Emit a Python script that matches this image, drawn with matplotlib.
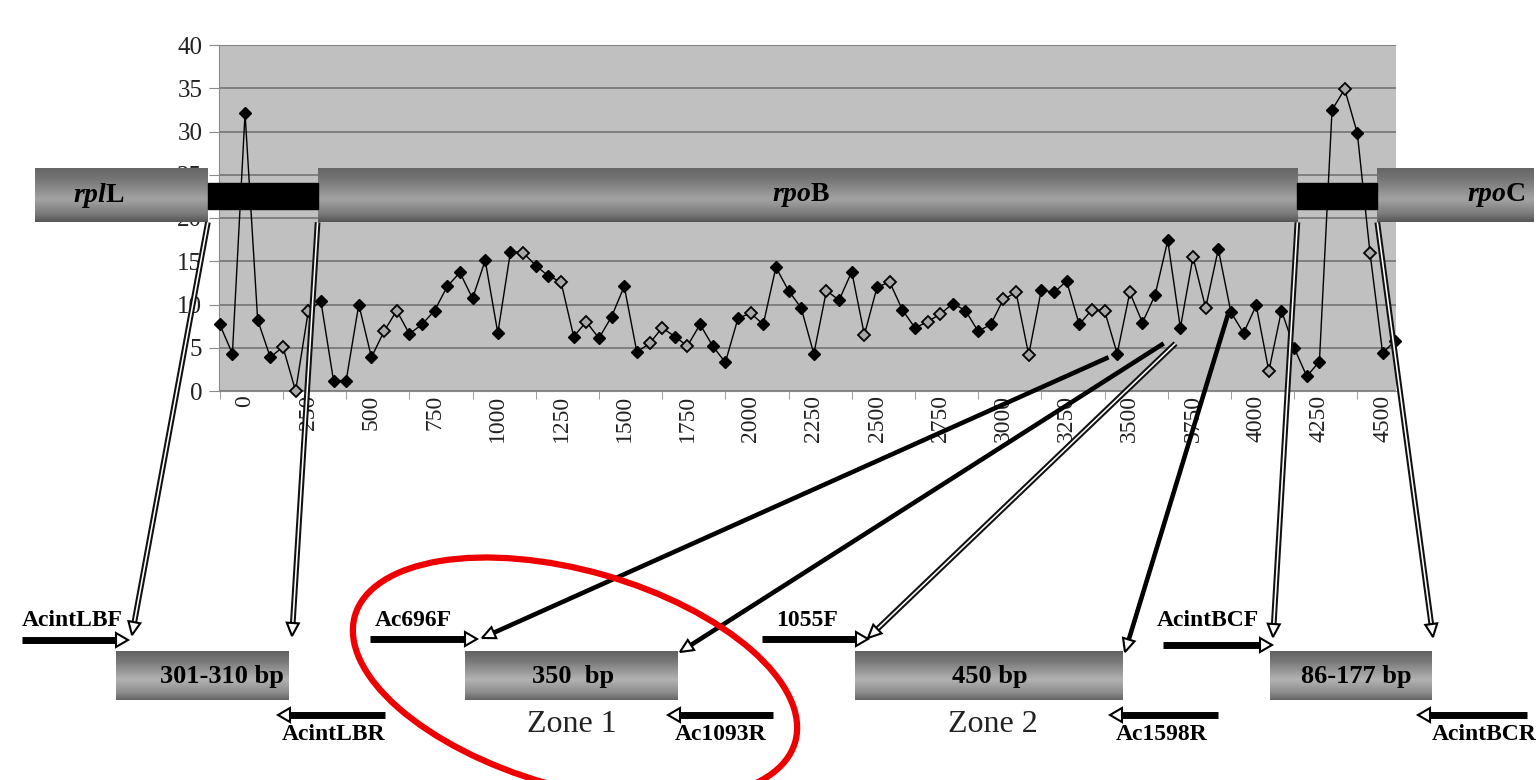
import numpy as np
import matplotlib.pyplot as plt
from matplotlib.patches import Rectangle, Polygon, Ellipse

plt.rcParams['font.family'] = ['Liberation Serif', 'DejaVu Serif']
plt.rcParams['mathtext.fontset'] = 'custom'
plt.rcParams['mathtext.it'] = 'Liberation Serif:italic:bold'
plt.rcParams['mathtext.rm'] = 'Liberation Serif:bold'

# position along the rplL-rpoB-rpoC region (bp), one point every 50 bp
positions = list(range(-100, 4551, 50))
values = [7.7, 4.3, 32.1, 8.2, 3.9, 5.1, 0.0, 9.2, 10.4, 1.2,
          1.2, 10.0, 3.9, 6.9, 9.3, 6.6, 7.7, 9.3, 12.1, 13.7,
          10.7, 15.1, 6.7, 16.1, 16.0, 14.5, 13.3, 12.6, 6.3, 8.0,
          6.1, 8.6, 12.1, 4.5, 5.5, 7.3, 6.3, 5.2, 7.7, 5.2,
          3.3, 8.4, 9.0, 7.7, 14.3, 11.6, 9.6, 4.3, 11.6, 10.5,
          13.8, 6.5, 12.0, 12.6, 9.4, 7.3, 8.0, 8.9, 10.1, 9.3,
          6.9, 7.7, 10.6, 11.4, 4.2, 11.7, 11.4, 12.7, 7.7, 9.4,
          9.3, 4.3, 11.4, 7.9, 11.1, 17.4, 7.3, 15.5, 9.6, 16.4,
          9.1, 6.7, 9.9, 2.3, 9.3, 5.0, 1.7, 3.4, 32.5, 34.9,
          29.8, 16.0, 4.4, 5.8]
open_idx = [5, 6, 7, 13, 14, 24, 27, 29, 34, 35, 37, 42, 48, 51, 53, 56, 57,
            62, 63, 64, 69, 70, 72, 77, 78, 83, 89, 91]
xtick_vals = list(range(0, 4501, 250))

# genes (bp) and the intergenic spacers between them
gene_labels = ['$rpl$L', '$rpo$B', '$rpo$C']
gene_start = [-830, 287, 4479]
gene_end = [-147, 4163, 5100]
gene_label_x = [-580, 2200, 4950]
spacers = [(-147, 287), (4163, 4479)]

# amplicons (figure pixels) and primers
amp_labels = ['301-310 bp', '350  bp', '450 bp', '86-177 bp']
amp_left = [116, 465, 855, 1270]
amp_right = [289, 678, 1123, 1432]
amp_text_x = [222, 573, 990, 1356]
fwd_primers = ['AcintLBF', 'Ac696F', '1055F', 'AcintBCF']
fwd_x = [(22, 128), (370, 477), (762, 868), (1163, 1272)]
fwd_y = [640, 639, 639, 645]
fwd_label_x = [72, 413, 807, 1208]
rev_primers = ['AcintLBR', 'Ac1093R', 'Ac1598R', 'AcintBCR']
rev_x = [(385, 278), (773, 668), (1218, 1110), (1527, 1418)]
rev_label_x = [334, 721, 1162, 1484]
zones = ['Zone 1', 'Zone 2']
zone_x = [572, 993]

# links from the chart to the amplicons: start (bp, value) -> end (pixels)
link_start = [(-147, 19.5), (287, 19.5), (3416, 3.9), (3634, 5.5),
              (3681, 5.5), (3890, 9.0), (4163, 19.5), (4479, 19.5)]
link_end = [(132, 635), (292, 636), (482, 638), (680, 652),
            (868, 638), (1125, 652), (1273, 637), (1433, 637)]
link_hollow = [True, True, False, False, True, False, True, True]

fig = plt.figure(figsize=(15.36, 7.8), dpi=100)
ax = fig.add_axes([219 / 1536, 1 - 391 / 780, 1177 / 1536, 346 / 780])
ax.set_facecolor('#c0c0c0')
ax.set_xlim(-103, 4553)
ax.set_ylim(0, 40)
ax.set_yticks(range(0, 41, 5))
ax.grid(axis='y', color='#7a7a7a', lw=1.3)
ax.set_axisbelow(True)
for s in ['top', 'right']:
    ax.spines[s].set_visible(False)
for s in ['left', 'bottom']:
    ax.spines[s].set_color('#8a8a8a')
ax.tick_params(axis='y', direction='out', length=7, color='#8a8a8a',
               labelsize=18, labelcolor='#222222', pad=5)
ax.set_xticks(xtick_vals)
ax.set_xticklabels([str(v) for v in xtick_vals], rotation=90)
ax.tick_params(axis='x', which='major', length=0, pad=3, labelsize=17,
               labelcolor='#222222')
ax.set_xticks(range(-100, 4500, 250), minor=True)
ax.tick_params(axis='x', which='minor', length=6, direction='out', color='#8a8a8a')

ax.plot(positions, values, color='black', lw=1.0, zorder=3)
closed = [i for i in range(len(values)) if i not in open_idx]
ax.plot([positions[i] for i in closed], [values[i] for i in closed], 'D',
        ms=6.5, color='black', zorder=4, clip_on=False)
ax.plot([positions[i] for i in open_idx], [values[i] for i in open_idx], 'D',
        ms=6.5, mfc='#a8a8a8', mec='black', mew=1.3, zorder=4, clip_on=False)

# overlay in figure pixels for the gene map and the amplicon diagram
ov = fig.add_axes([0, 0, 1, 1])
ov.set_xlim(0, 1536)
ov.set_ylim(780, 0)
ov.set_autoscale_on(False)
ov.axis('off')
ov.patch.set_alpha(0)


def to_ov(x, y):
    return ov.transData.inverted().transform(ax.transData.transform((x, y)))


def shaded(x0, x1, y_top, y_bot, grays, z=2):
    stops = [0, 0.2, 0.58, 0.85, 1]
    t = np.linspace(0, 1, 64)
    col = np.interp(t, stops, grays).reshape(-1, 1)
    ov.imshow(np.repeat(col, 2, axis=1), cmap='gray', vmin=0, vmax=1,
              extent=(x0, x1, y_bot, y_top), aspect='auto',
              interpolation='bilinear', zorder=z)


def arrow(x0, y0, x1, y1, lw=3.0, hollow=False, head=13, half=6):
    dx, dy = x1 - x0, y1 - y0
    L = np.hypot(dx, dy)
    ux, uy = dx / L, dy / L
    bx, by = x1 - ux * head, y1 - uy * head
    if hollow:
        ov.plot([x0, bx], [y0, by], color='#111111', lw=lw + 0.8, solid_capstyle='butt')
        ov.plot([x0, bx], [y0, by], color='white', lw=lw * 0.35, solid_capstyle='butt')
    else:
        ov.plot([x0, bx], [y0, by], color='black', lw=lw, solid_capstyle='butt')
    px, py = -uy, ux
    tri = [(x1, y1), (bx + px * half, by + py * half), (bx - px * half, by - py * half)]
    ov.add_patch(Polygon(tri, closed=True, fc='white', ec='black', lw=1.5, zorder=5))


bar_grays = [0.40, 0.46, 0.64, 0.48, 0.34]
for i in range(len(gene_labels)):
    x0 = to_ov(gene_start[i], 0)[0]
    x1 = to_ov(gene_end[i], 0)[0]
    shaded(x0, x1, 168, 222, bar_grays, z=2)
    ov.text(to_ov(gene_label_x[i], 0)[0], 195, gene_labels[i], fontsize=20,
            fontweight='bold', ha='center', va='center', zorder=4)
for a, b in spacers:
    xa = to_ov(a, 0)[0]
    xb = to_ov(b, 0)[0]
    ov.add_patch(Rectangle((xa, 183), xb - xa, 26, fc='black', ec='black', zorder=3))

box_grays = [0.38, 0.47, 0.70, 0.55, 0.40]
for i in range(len(amp_labels)):
    shaded(amp_left[i], amp_right[i], 651, 700, box_grays, z=2)
    ov.text(amp_text_x[i], 677, amp_labels[i], fontsize=19, fontweight='bold',
            ha='center', va='center', zorder=3)

for i in range(len(fwd_primers)):
    x0, x1 = fwd_x[i]
    arrow(x0, fwd_y[i], x1, fwd_y[i], lw=5, head=12, half=7)
    ov.text(fwd_label_x[i], 621, fwd_primers[i], fontsize=17, fontweight='bold',
            ha='center', va='center')
for i in range(len(rev_primers)):
    x0, x1 = rev_x[i]
    arrow(x0, 715, x1, 715, lw=5, head=12, half=7)
    ov.text(rev_label_x[i], 735, rev_primers[i], fontsize=17, fontweight='bold',
            ha='center', va='center')

for i in range(len(zones)):
    ov.text(zone_x[i], 724, zones[i], fontsize=23, ha='center', va='center',
            color='#222222')

for i in range(len(link_start)):
    sx, sy = to_ov(*link_start[i])
    ex, ey = link_end[i]
    arrow(sx, sy, ex, ey, lw=3.3, hollow=link_hollow[i], head=13, half=6)

ov.add_patch(Ellipse((575, 679), 458, 216, angle=16, fill=False,
                     ec='#ee0000', lw=4.5, zorder=6))

ov.set_xlim(0, 1536)
ov.set_ylim(780, 0)
fig.savefig('out.png', dpi=100)
